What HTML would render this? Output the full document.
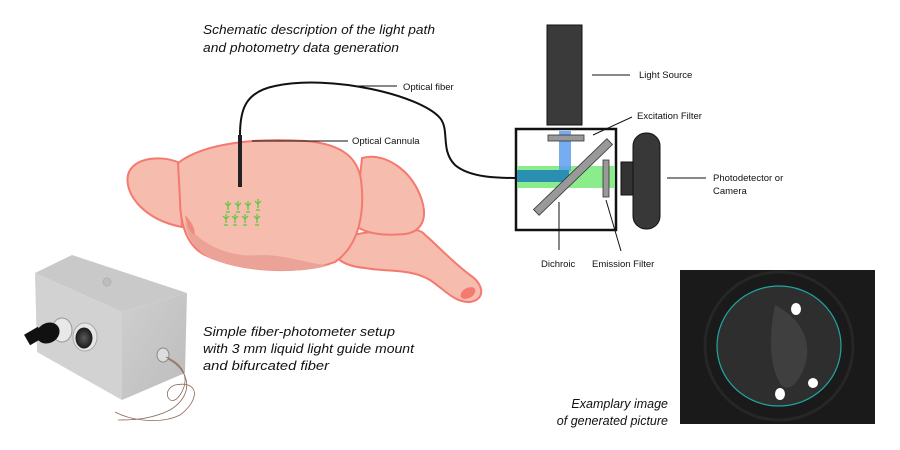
<!DOCTYPE html>
<html><head><meta charset="utf-8"><style>
html,body{margin:0;padding:0;background:#fff;width:900px;height:450px;overflow:hidden}
svg{display:block}
.l{font-family:"Liberation Sans",sans-serif;font-size:9.5px;fill:#111}
.i{font-family:"Liberation Sans",sans-serif;font-style:italic;font-size:12.5px;fill:#111}
</style></head><body>
<svg width="900" height="450" viewBox="0 0 900 450" xmlns="http://www.w3.org/2000/svg">
<defs>
<radialGradient id="gl" cx="0.5" cy="0.5" r="0.5"><stop offset="0" stop-color="#5a5a5a"/><stop offset="1" stop-color="#1a1a1a"/></radialGradient>
<linearGradient id="rf" x1="0" y1="0" x2="1" y2="1"><stop offset="0" stop-color="#cfcfcf"/><stop offset="1" stop-color="#bcbcbc"/></linearGradient>
</defs>
<text class="i" x="203" y="34" textLength="232" lengthAdjust="spacingAndGlyphs">Schematic description of the light path</text>
<text class="i" x="203" y="52" textLength="196" lengthAdjust="spacingAndGlyphs">and photometry data generation</text>

<!-- brain -->
<g stroke="#f47a70" stroke-width="2" fill="#f6bcae">
<path d="M330,240 C380,228 420,225 425,235 C432,240 450,260 470,275 C485,285 485,300 470,302 C455,303 445,290 430,280 C410,268 385,272 365,268 C345,266 332,260 330,240 Z"/>
<path d="M362,158 C385,152 410,170 420,195 C430,220 420,232 405,234 C385,236 365,234 355,225 Z"/>
<path d="M180,163 C160,154 132,158 128,175 C124,195 145,220 182,227 Z"/>
<path d="M178,163 C205,142 260,138 305,141 C345,144 358,160 361,180 C365,210 360,245 335,262 C300,275 240,272 205,255 C185,245 180,220 180,200 Z"/>
</g>
<path d="M185,222 C200,245 230,258 260,255 C290,255 310,265 330,265 C300,275 240,272 210,258 C195,250 188,238 185,222Z" fill="#eba297"/>
<path d="M185,215 C192,222 196,230 194,235 C188,230 186,222 185,215Z" fill="#f08a80"/>
<ellipse cx="468" cy="293" rx="8" ry="5" fill="#f47a70" transform="rotate(-30 468 293)"/>
<g fill="none" stroke="#5ac83a" stroke-width="1.2">
<path d="M228,201v9M225,203l3,3 3,-3M226,212h4"/><path d="M238,201v9M235,203l3,3 3,-3M236,212h4"/><path d="M248,201v9M245,203l3,3 3,-3M246,212h4"/><path d="M258,199v9M255,201l3,3 3,-3M256,210h4"/>
<path d="M226,214v9M223,216l3,3 3,-3M224,225h4"/><path d="M235,214v9M232,216l3,3 3,-3M233,225h4"/><path d="M245,214v9M242,216l3,3 3,-3M243,225h4"/><path d="M257,214v9M254,216l3,3 3,-3M255,225h4"/>
</g>
<rect x="238" y="135" width="4" height="52" fill="#222"/>
<path d="M240,135 C240,110 245,92 275,86 C330,74 420,95 440,118 C450,130 440,150 455,165 C470,178 500,178 516,178" fill="none" stroke="#111" stroke-width="2"/>
<line x1="355" y1="86" x2="397" y2="86" stroke="#111"/><text class="l" x="403" y="90">Optical fiber</text>
<line x1="252" y1="141" x2="348" y2="141" stroke="#111"/><text class="l" x="352" y="144">Optical Cannula</text>

<!-- optics -->
<rect x="547" y="25" width="35" height="100" fill="#3a3a3a" stroke="#111"/>
<rect x="516" y="129" width="100" height="101" fill="#fff" stroke="#111" stroke-width="2.5"/>
<rect x="517" y="166" width="98" height="22" fill="#7eea7e" opacity="0.9"/>
<rect x="559" y="131" width="12" height="40" fill="#5d9ef0" opacity="0.85"/>
<rect x="517" y="170" width="52" height="12" fill="#2a8fb0"/>
<rect x="548" y="135" width="36" height="6" fill="#999" stroke="#333" stroke-width="0.8"/>
<rect x="522" y="173" width="102" height="8" fill="#999" stroke="#333" stroke-width="0.8" transform="rotate(-44 573 177)"/>
<rect x="603" y="160" width="6" height="37" fill="#999" stroke="#333" stroke-width="0.8"/>
<rect x="621" y="162" width="13" height="33" fill="#333" stroke="#111"/>
<rect x="633" y="133" width="27" height="96" rx="13" fill="#383838" stroke="#111"/>
<line x1="592" y1="75" x2="630" y2="75" stroke="#111"/><text class="l" x="639" y="78">Light Source</text>
<line x1="593" y1="135" x2="632" y2="117" stroke="#111"/><text class="l" x="637" y="119">Excitation Filter</text>
<line x1="667" y1="178" x2="706" y2="178" stroke="#111"/><text class="l" x="713" y="181">Photodetector or</text><text class="l" x="713" y="194">Camera</text>
<line x1="559" y1="202" x2="559" y2="250" stroke="#111"/><text class="l" x="541" y="267">Dichroic</text>
<line x1="606" y1="200" x2="621" y2="251" stroke="#111"/><text class="l" x="592" y="267">Emission Filter</text>

<!-- device -->
<path d="M35,273 L72,255 L187,293 L122,312 Z" fill="#c9c9c9"/>
<path d="M35,273 L122,312 L122,400 L37,352 Z" fill="#d2d2d2"/>
<path d="M122,312 L187,293 L185,373 L122,400 Z" fill="url(#rf)"/>
<circle cx="107" cy="282" r="4" fill="#bdbdbd" stroke="#b0b0b0"/>
<ellipse cx="62" cy="330" rx="10" ry="12" fill="#e8e8e8" stroke="#999"/>
<ellipse cx="48" cy="333" rx="12" ry="10" fill="#111" transform="rotate(-30 48 333)"/>
<rect x="26" y="330" width="16" height="12" fill="#111" transform="rotate(-30 34 336)"/>
<ellipse cx="85" cy="337" rx="12" ry="14" fill="#e6e6e6" stroke="#aaa"/>
<ellipse cx="84" cy="338" rx="8.5" ry="10.5" fill="url(#gl)"/>
<ellipse cx="163" cy="355" rx="6" ry="7" fill="#ddd" stroke="#888"/>
<path d="M166,357 C185,365 190,380 180,395 C170,410 160,390 175,385 C200,380 200,400 180,415 C160,425 130,420 115,412" fill="none" stroke="#8a6a5a" stroke-width="0.8"/>
<path d="M168,359 C190,370 195,395 170,410 C150,420 130,420 118,420" fill="none" stroke="#8a6a5a" stroke-width="0.8"/>
<text class="i" x="203" y="336" textLength="192" lengthAdjust="spacingAndGlyphs">Simple fiber-photometer setup</text>
<text class="i" x="203" y="353" textLength="211" lengthAdjust="spacingAndGlyphs">with 3 mm liquid light guide mount</text>
<text class="i" x="203" y="370" textLength="126" lengthAdjust="spacingAndGlyphs">and bifurcated fiber</text>

<!-- image -->
<rect x="680" y="270" width="195" height="154" fill="#1a1a1a"/>
<circle cx="779" cy="346" r="74" fill="none" stroke="#262626" stroke-width="3"/>
<ellipse cx="779" cy="346" rx="62" ry="60" fill="#2e2e2e" stroke="#1fa8a0" stroke-width="1.2"/>
<path d="M775,305 C795,315 812,335 806,362 C800,382 790,392 782,386 C770,370 768,340 775,305Z" fill="#444" opacity="0.8"/>
<ellipse cx="796" cy="309" rx="5" ry="6" fill="#fff"/>
<ellipse cx="813" cy="383" rx="5" ry="5" fill="#fff"/>
<ellipse cx="780" cy="394" rx="5" ry="6" fill="#fff"/>
<text class="i" x="668" y="408" text-anchor="end">Examplary image</text>
<text class="i" x="668" y="425" text-anchor="end">of generated picture</text>
</svg>
</body></html>
